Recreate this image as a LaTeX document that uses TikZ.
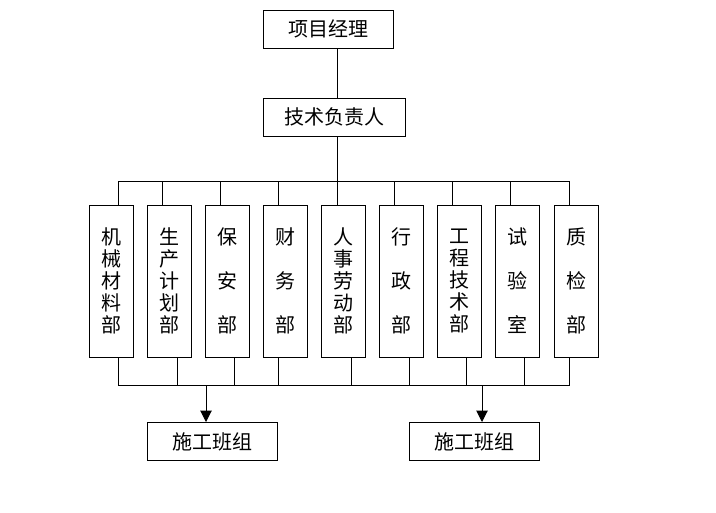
\documentclass[tikz,border=0pt]{standalone}
\usepackage{fontspec}
\newfontfamily\cjk{Noto Sans CJK SC}
\usetikzlibrary{positioning,calc,arrows.meta}

\begin{document}
\begin{tikzpicture}[x=0.75pt, y=-0.75pt, node distance=9.85pt, line width=0.75pt,
        block/.style={draw, rectangle, inner sep=0pt, minimum height=28.5pt, align=center, font=\cjk\fontsize{15}{18}\selectfont},
        dept/.style={draw, rectangle, inner sep=0pt, minimum width=33pt, minimum height=114pt, align=center, font=\cjk\fontsize{15}{16.5}\selectfont},
        >={Triangle[width=8.5pt,length=8.5pt]}
    ]
        \useasboundingbox (0,0) rectangle (716,512);
        \node [block, minimum width=98pt] (pm) at (328.5,29) {项目经理};
        \node [block, minimum width=107pt] (tech) at (334.5,117) {技术负责人};
        \node [dept] (d1) at (111,281) {机\\械\\材\\料\\部};
        \node [dept, right=of d1] (d2) {生\\产\\计\\划\\部};
        \node [dept, right=of d2] (d3) {保\\[16.5pt]安\\[16.5pt]部};
        \node [dept, right=of d3] (d4) {财\\[16.5pt]务\\[16.5pt]部};
        \node [dept, right=of d4] (d5) {人\\事\\劳\\动\\部};
        \node [dept, right=of d5] (d6) {行\\[16.5pt]政\\[16.5pt]部};
        \node [dept, right=of d6] (d7) {工\\程\\技\\术\\部};
        \node [dept, right=of d7] (d8) {试\\[16.5pt]验\\[16.5pt]室};
        \node [dept, right=of d8] (d9) {质\\[16.5pt]检\\[16.5pt]部};
        \node [block, minimum width=98pt] (team1) at (212.5,441.5) {施工班组};
        \node [block, minimum width=98pt] (team2) at (474.5,441.5) {施工班组};

        % trunk from the manager down to the upper bus
        \draw ($(pm.south)+(8.5,0)$) -- ($(tech.north)+(2.5,0)$);
        \draw ($(tech.south)+(2.5,0)$) coordinate (trunk) -- (trunk |- d5.north);
        % upper bus
        \draw ($(d1.north)+(7,0)$) -- ++(0,-23) -| ($(d9.north)+(-7,0)$);
        \draw ($(d2.north)+(-7,0)$) -- ++(0,-23);
        \draw ($(d3.north)+(-7,0)$) -- ++(0,-23);
        \draw ($(d4.north)+(-7,0)$) -- ++(0,-23);
        \draw ($(d6.north)+(-7,0)$) -- ++(0,-23);
        \draw ($(d7.north)+(-7,0)$) -- ++(0,-23);
        \draw ($(d8.north)+(-7,0)$) -- ++(0,-23);
        % lower bus
        \draw ($(d1.south)+(7,0)$) -- ++(0,28) -| ($(d9.south)+(-7,0)$);
        \draw ($(d2.south)+(8,0)$) -- ++(0,28);
        \draw ($(d3.south)+(7,0)$) -- ++(0,28);
        \draw ($(d4.south)+(-7,0)$) -- ++(0,28);
        \draw ($(d5.south)+(8,0)$) -- ++(0,28);
        \draw ($(d6.south)+(7.5,0)$) -- ++(0,28);
        \draw ($(d7.south)+(7,0)$) -- ++(0,28);
        \draw ($(d8.south)+(7,0)$) -- ++(0,28);
        % down to the work teams
        \draw [->] ($(team1.north)+(-6.5,-37)$) -- ($(team1.north)+(-6.5,0)$);
        \draw [->] ($(team2.north)+(7.5,-37)$) -- ($(team2.north)+(7.5,0)$);
    \end{tikzpicture}
\end{document}
